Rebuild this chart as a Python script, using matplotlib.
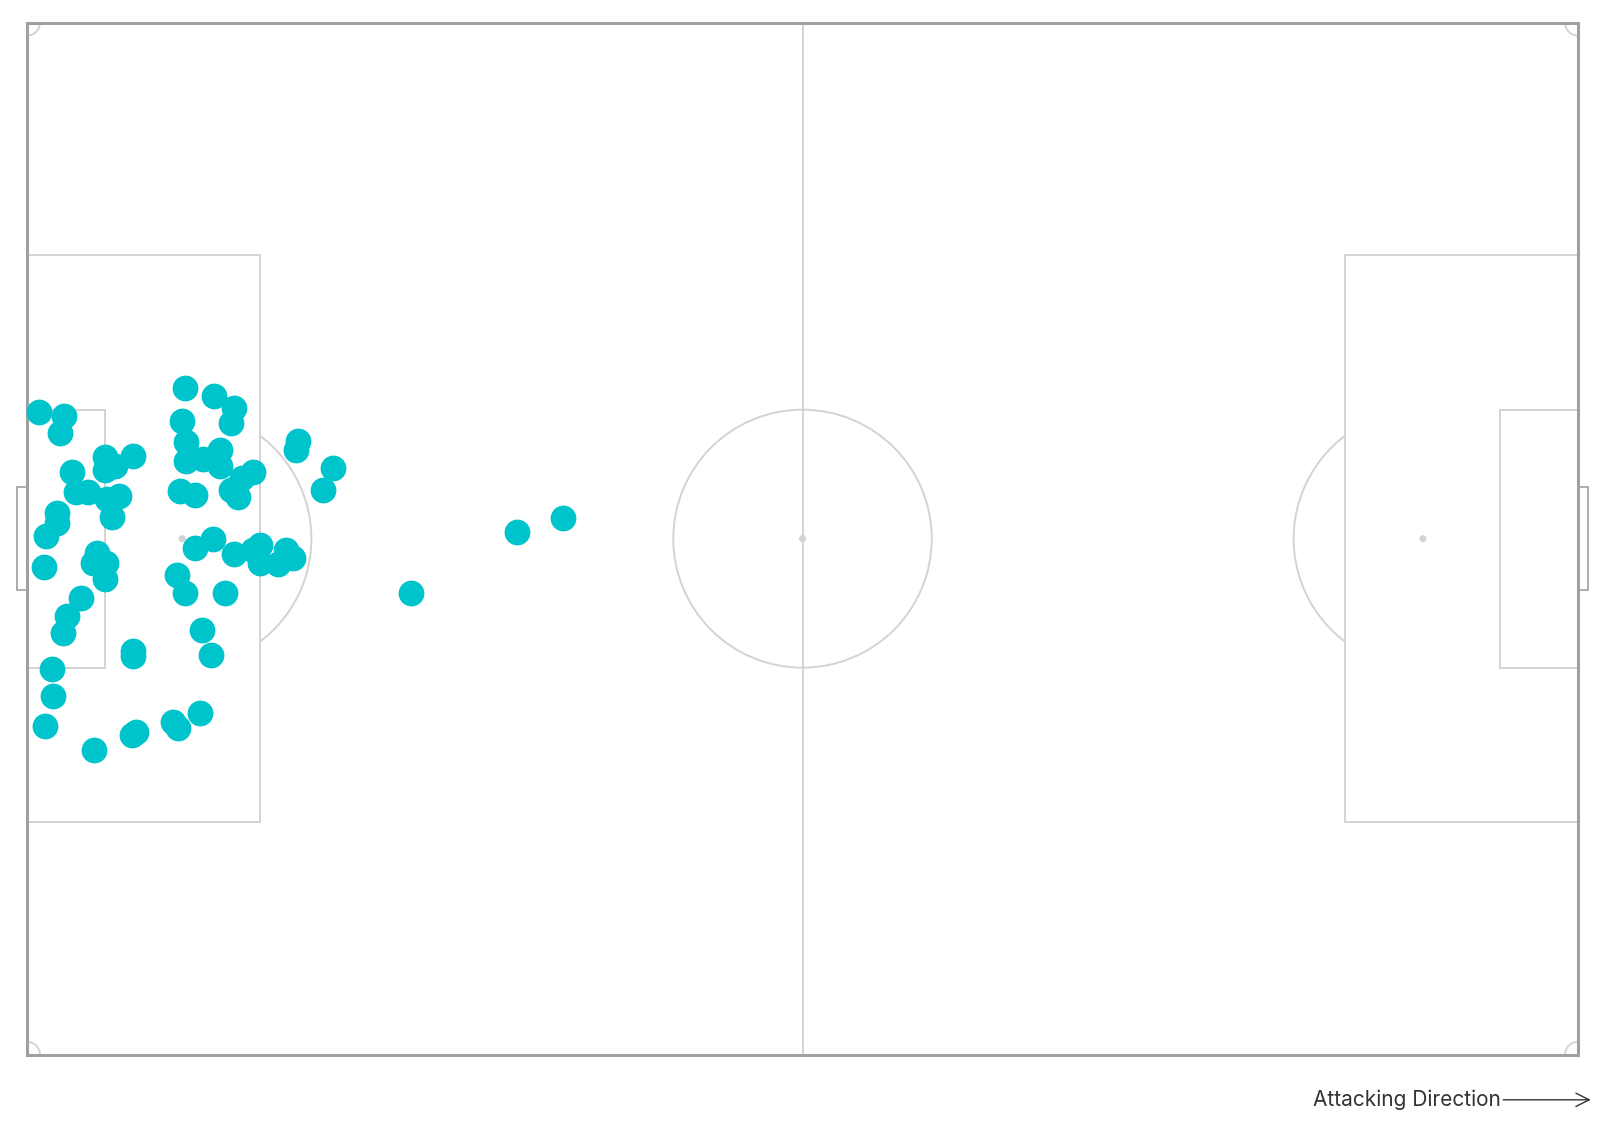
import matplotlib.pyplot as plt
from matplotlib.patches import Rectangle, Circle, Arc

# event locations (pitch yards, 120 x 80, y measured from top touchline)
shot_x = [0.95, 2.9, 2.55, 12.2, 14.5, 16.0, 15.8, 12.0, 12.3, 12.3, 13.6, 14.9,
          14.9, 17.5, 16.6, 15.8, 16.3, 11.8, 13.0, 21.0, 20.8, 23.7, 22.9, 6.0,
          8.2, 6.8, 6.0, 3.5, 3.8, 4.7, 6.2, 7.1, 6.6, 2.3, 2.3, 1.5,
          1.3, 5.4, 5.1, 6.1, 6.0, 4.2, 3.1, 2.8, 1.9, 2.0, 1.4, 5.2,
          8.1, 8.4, 11.3, 11.7, 13.4, 8.2, 8.2, 13.5, 14.2, 11.6, 12.2, 15.3,
          13.0, 14.4, 16.0, 18.0, 17.5, 18.0, 19.4, 20.0, 20.6, 29.7, 37.9, 41.5]
shot_y = [30.2, 30.5, 31.8, 28.3, 28.9, 29.9, 31.0, 30.9, 32.5, 34.0, 33.8, 33.1,
          34.4, 34.8, 35.3, 36.2, 36.8, 36.3, 36.6, 32.4, 33.1, 34.5, 36.2, 33.7,
          33.6, 34.4, 34.7, 34.8, 36.4, 36.4, 36.9, 36.7, 38.3, 38.0, 38.8, 39.8,
          42.2, 41.1, 41.9, 41.9, 43.1, 44.6, 46.0, 47.3, 50.1, 52.2, 54.5, 56.4,
          55.2, 55.0, 54.2, 54.7, 53.5, 48.7, 49.1, 47.1, 49.0, 42.8, 44.2, 44.2,
          40.7, 40.0, 41.2, 40.5, 40.9, 41.9, 42.0, 40.9, 41.5, 44.2, 39.5, 38.4]

line_col = "#d3d3d3"
edge_col = "#a0a0a0"
dot_col = "#00c4cb"

fig = plt.figure(figsize=(16, 11.3), dpi=100)
ax = fig.add_axes([0, 0, 1, 1])
ax.set_xlim(-2.09, 121.7)
ax.set_ylim(85.84, -1.76)
ax.axis("off")

lw = 1.4
# halfway line and centre circle
ax.plot([60, 60], [0, 80], color=line_col, lw=lw, zorder=1)
ax.add_patch(Circle((60, 40), 10, fill=False, ec=line_col, lw=lw, zorder=1))
for px in [12, 60, 108]:
    ax.add_patch(Circle((px, 40), 0.22, color=line_col, zorder=1))

# boxes
ax.add_patch(Rectangle((0, 18), 18, 44, fill=False, ec=line_col, lw=lw, zorder=1))
ax.add_patch(Rectangle((102, 18), 18, 44, fill=False, ec=line_col, lw=lw, zorder=1))
ax.add_patch(Rectangle((0, 30), 6, 20, fill=False, ec=line_col, lw=lw, zorder=1))
ax.add_patch(Rectangle((114, 30), 6, 20, fill=False, ec=line_col, lw=lw, zorder=1))
ax.add_patch(Arc((12, 40), 20, 20, theta1=-53.13, theta2=53.13, ec=line_col, lw=lw, zorder=1))
ax.add_patch(Arc((108, 40), 20, 20, theta1=126.87, theta2=233.13, ec=line_col, lw=lw, zorder=1))

# corner arcs
ax.add_patch(Arc((0, 0), 2, 2, theta1=0, theta2=90, ec=line_col, lw=lw, zorder=1))
ax.add_patch(Arc((120, 0), 2, 2, theta1=90, theta2=180, ec=line_col, lw=lw, zorder=1))
ax.add_patch(Arc((0, 80), 2, 2, theta1=270, theta2=360, ec=line_col, lw=lw, zorder=1))
ax.add_patch(Arc((120, 80), 2, 2, theta1=180, theta2=270, ec=line_col, lw=lw, zorder=1))

# goals
ax.add_patch(Rectangle((-0.8, 36), 0.8, 8, fill=False, ec=edge_col, lw=1.2, zorder=1))
ax.add_patch(Rectangle((120, 36), 0.8, 8, fill=False, ec=edge_col, lw=1.2, zorder=1))

# outer boundary
ax.add_patch(Rectangle((0, 0), 120, 80, fill=False, ec=edge_col, lw=2.2, zorder=2))

ax.scatter(shot_x, shot_y, s=345, color=dot_col, linewidths=0, zorder=3)

ax.text(114.0, 83.5, "Attacking Direction", ha="right", va="center",
        fontsize=15, color="#333333", family="Inter")
ax.annotate("", xy=(121.2, 83.5), xytext=(114.0, 83.5),
            arrowprops=dict(arrowstyle="->", color="#333333", lw=1.0,
                            mutation_scale=24))

fig.savefig("out.png", dpi=100)
